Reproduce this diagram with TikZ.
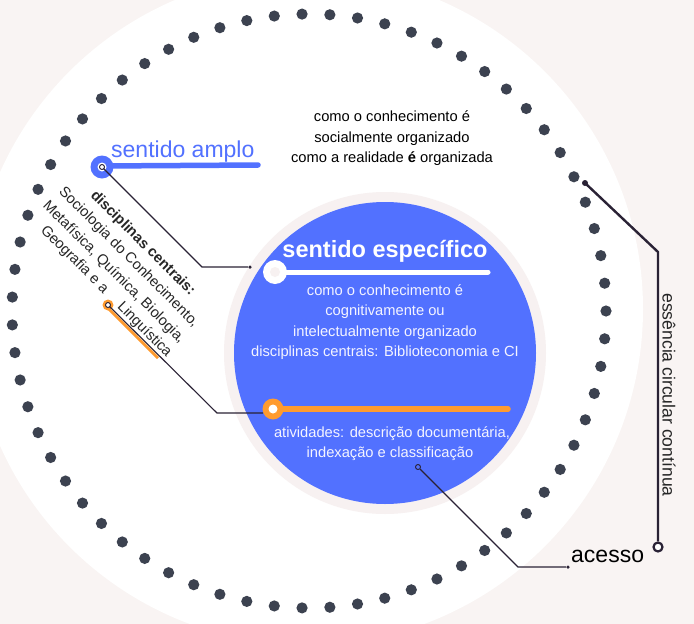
\documentclass[tikz,border=0pt]{standalone}
\usepackage{fontspec}
\setmainfont{Liberation Sans}
\definecolor{bgpink}{HTML}{F9F4F3}
\definecolor{dotc}{HTML}{3C4250}
\definecolor{bluec}{HTML}{5271FF}
\definecolor{ringc}{HTML}{F7F1F1}
\definecolor{orangec}{HTML}{FF9B2F}
\definecolor{darkc}{HTML}{2A2235}
\definecolor{softwhite}{HTML}{F4F4FF}
\begin{document}
\begin{tikzpicture}[x=1pt,y=-1pt,
  txt/.style={inner sep=0pt,font=\fontsize{14.7pt}{17pt}\selectfont},
  wtxt/.style={txt,text=softwhite},
  rtxt/.style={inner sep=0pt,font=\fontsize{14.7pt}{18pt}\selectfont,text=black!85,rotate=-45,anchor=base},
  conn/.style={draw=darkc,line width=1.1pt},
  enddot/.style={circle,fill=darkc,inner sep=0pt,minimum size=4pt},
  endring/.style={circle,draw=darkc,fill=white,line width=0.9pt,inner sep=0pt,minimum size=5pt},
]
\useasboundingbox (0,0) rectangle (694,624);
\clip (0,0) rectangle (694,624);
\fill[bgpink] (0,0) rectangle (694,624);
\fill[white] (307,309) circle[radius=336pt];
% dotted ring
\foreach \i in {0,...,66}{
  \fill[dotc,shift={(309,311)}] ({\i*5.37313}:297pt) circle[radius=5.6pt];
}
% inner circle
\fill[ringc] (385,353) circle[radius=161pt];
\fill[bluec] (385,353) circle[radius=151pt];

% sentido amplo
\node[inner sep=0pt,anchor=base west,text=bluec,font=\fontsize{23pt}{26pt}\selectfont] (amplotxt) at (111,157) {sentido amplo};
\draw[bluec,line width=5.5pt,line cap=round] (102,166) -- (258,165);
\node[circle,fill=bluec,inner sep=0pt,minimum size=23pt] (amplomk) at (102,167) {};
\node[circle,fill=white,inner sep=0pt,minimum size=9pt] at (amplomk.center) {};

% top text
\node[txt,anchor=base] (t1) at (392,121) {como o conhecimento é};
\node[txt,anchor=base] (t2) at (392,142) {socialmente organizado};
\node[txt,anchor=base] (t3) at (392,162) {como a realidade \textbf{é} organizada};

% rotated text
\node[rtxt] (r1) at (140.0,246.1) {\textbf{disciplinas centrais:}};
\node[rtxt] (r2) at (125.9,260.2) {Sociologia do Conhecimento,};
\node[rtxt] (r3) at (111.0,275.1) {Metafísica, Química, Biologia,};
\node[rtxt,anchor=base east] (r4a) at (103.2,294.2) {Geografia e a};
\node[rtxt,anchor=base west] (r4b) at (116.7,307.6) {Linguística};

% sentido especifico
\node[inner sep=0pt,anchor=base,text=white,font=\bfseries\fontsize{23.5pt}{26pt}\selectfont] (esp) at (385,257) {sentido específico};
\draw[white,line width=5pt,line cap=round] (275,272) -- (488,272);
\node[circle,fill=white,inner sep=0pt,minimum size=24pt] (espmk) at (275,272) {};
\node[circle,fill=ringc,inner sep=0pt,minimum size=10pt] at (espmk.center) {};

\node[wtxt,anchor=base] (e1) at (385,295) {como o conhecimento é};
\node[wtxt,anchor=base] (e2) at (385,315.5) {cognitivamente ou};
\node[wtxt,anchor=base] (e3) at (385,336) {intelectualmente organizado};
\node[wtxt,anchor=base] (e4) at (385,356.5) {disciplinas centrais: Biblioteconomia e CI};

% atividades
\draw[orangec,line width=5.5pt,line cap=round] (273,409) -- (508,409);
\node[circle,fill=orangec,inner sep=0pt,minimum size=21pt] (orgmk) at (273,409) {};
\node[circle,fill=white,inner sep=0pt,minimum size=9pt] at (orgmk.center) {};
\node[wtxt,anchor=base] (a1) at (392,437) {atividades: descrição documentária,};
\node[wtxt,anchor=base] (a2) at (390,457) {indexação e classificação};

% acesso & essencia
\node[inner sep=0pt,anchor=base west,text=black,font=\fontsize{23pt}{26pt}\selectfont] (acesso) at (571,562) {acesso};
\node[inner sep=0pt,rotate=-90,text=black!85,font=\fontsize{17.6pt}{20pt}\selectfont] (ess) at (669,395) {essência circular contínua};

% connectors
\coordinate (b1) at (202,267);
\node[enddot,minimum size=3.5pt] (amploend) at (250,267) {};
\draw[conn] (amplomk.center) -- (b1) -- (amploend);
\node[endring] (amplostart) at (amplomk.center) {};

\draw[orangec,line width=2.8pt] (106.4,306.5) -- (158.0,358.1);
\node[circle,fill=orangec,inner sep=0pt,minimum size=11pt] (lingmk) at (108,305) {};
\coordinate (b2) at (217,413);
\coordinate (orgend) at (263,413);
\draw[conn] (lingmk.center) -- (b2) -- (orgend);
\node[endring] at (lingmk.center) {};

\node[endring,fill=bluec] (acstart) at (418,467) {};
\coordinate (b3) at (518,567);
\node[enddot,minimum size=3.5pt] (acend) at (568,567) {};
\draw[conn] (acstart) -- (b3) -- (acend);

\node[enddot,minimum size=6pt] (essstart) at (585,183) {};
\coordinate (b4) at (658,252);
\node[circle,draw=darkc,fill=white,line width=2.2pt,inner sep=0pt,minimum size=9pt] (essend) at (658,547) {};
\draw[draw=darkc,line width=2.4pt] (essstart.center) -- (b4) -- (essend.north);
\end{tikzpicture}
\end{document}
